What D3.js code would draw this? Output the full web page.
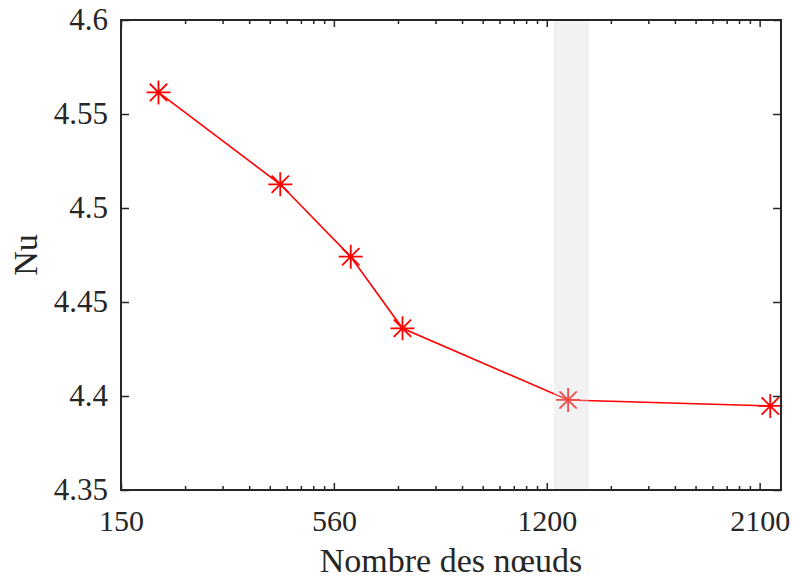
<!DOCTYPE html>
<html>
<head>
<meta charset="utf-8">
<script src="https://cdn.jsdelivr.net/npm/d3@7"></script>
<style>
  body { margin: 0; background: #fff; }
  text { font-family: "Liberation Serif", "Times New Roman", serif; fill: #262626; }
  .domain { display: none; }
  .tick line { stroke: #262626; stroke-width: 1.5; }
</style>
</head>
<body>
<div id="chart"></div>
<script>
// svg dimensions
let svgWidth = 793,
  svgHeight = 580;

// chart margins
let margin = { top: 20, right: 12, bottom: 90, left: 121 };
let chartWidth = svgWidth - margin.left - margin.right;
let chartHeight = svgHeight - margin.top - margin.bottom;

// data: x positions on the log axis, and Nu values
let nodePos = [1.5, 5.6, 12, 21, 126, 1122];
let nuValues = [4.5615, 4.5126, 4.4741, 4.436, 4.3979, 4.3947];

// x tick positions and the labels written on them
let xTickVals = [1, 10, 100, 1000];
let xTickLabels = ["150", "560", "1200", "2100"];
let yTickVals = [4.35, 4.4, 4.45, 4.5, 4.55, 4.6];

// shaded band on the x axis
let bandRange = [108, 158];

let svg = d3
  .select("#chart")
  .append("svg")
  .attr("width", svgWidth)
  .attr("height", svgHeight);

let chartGroup = svg
  .append("g")
  .attr("transform", `translate(${margin.left}, ${margin.top})`);

let xScale = d3.scaleLog().domain([1, 1260]).range([0, chartWidth]);
let yScale = d3.scaleLinear().domain([4.35, 4.6]).range([chartHeight, 0]);

// minor ticks 2..9 in each decade
let minorVals = [];
xTickVals.forEach((d) => {
  for (let k = 2; k < 10; k++) {
    if (d * k < 1260) minorVals.push(d * k);
  }
});

// line and markers
let line = d3
  .line()
  .x((d, i) => xScale(nodePos[i]))
  .y((d) => yScale(d));

chartGroup
  .append("path")
  .datum(nuValues)
  .attr("d", line)
  .attr("fill", "none")
  .attr("stroke", "#ff0000")
  .attr("stroke-width", 1.6);

let r = 12;
let star = `M${-r},0L${r},0M0,${-r}L0,${r}M${-r * 0.72},${-r * 0.72}L${r * 0.72},${r * 0.72}M${-r * 0.72},${r * 0.72}L${r * 0.72},${-r * 0.72}`;

chartGroup
  .selectAll(".marker")
  .data(nuValues)
  .enter()
  .append("path")
  .classed("marker", true)
  .attr("transform", (d, i) => `translate(${xScale(nodePos[i])}, ${yScale(d)})`)
  .attr("d", star)
  .attr("stroke", "#ff0000")
  .attr("stroke-width", 1.8)
  .attr("fill", "none");

// grey band drawn over the line
chartGroup
  .append("rect")
  .attr("x", xScale(bandRange[0]))
  .attr("y", 0)
  .attr("width", xScale(bandRange[1]) - xScale(bandRange[0]))
  .attr("height", chartHeight)
  .attr("fill", "#d9d9d9")
  .attr("fill-opacity", 0.35);

// axes, ticks pointing inward on all four sides
let bottomAxis = d3
  .axisBottom(xScale)
  .tickValues(xTickVals)
  .tickFormat((d, i) => xTickLabels[i])
  .tickSizeInner(-7)
  .tickPadding(20);

let bottomGroup = chartGroup
  .append("g")
  .attr("transform", `translate(0, ${chartHeight})`)
  .call(bottomAxis);
bottomGroup.selectAll("text").attr("font-size", "30px");

chartGroup
  .append("g")
  .attr("transform", `translate(0, ${chartHeight})`)
  .call(d3.axisBottom(xScale).tickValues(minorVals).tickFormat("").tickSizeInner(-4));

chartGroup
  .append("g")
  .call(d3.axisTop(xScale).tickValues(xTickVals).tickFormat("").tickSizeInner(-7));

chartGroup
  .append("g")
  .call(d3.axisTop(xScale).tickValues(minorVals).tickFormat("").tickSizeInner(-4));

let leftGroup = chartGroup
  .append("g")
  .call(
    d3
      .axisLeft(yScale)
      .tickValues(yTickVals)
      .tickFormat((d) => String(+d.toFixed(2)))
      .tickSizeInner(-8)
      .tickPadding(13)
  );
leftGroup.selectAll("text").attr("font-size", "31px");

chartGroup
  .append("g")
  .attr("transform", `translate(${chartWidth}, 0)`)
  .call(d3.axisRight(yScale).tickValues(yTickVals).tickFormat("").tickSizeInner(-8));

// frame
chartGroup
  .append("rect")
  .attr("width", chartWidth)
  .attr("height", chartHeight)
  .attr("fill", "none")
  .attr("stroke", "#262626")
  .attr("stroke-width", 2);

// axis labels
chartGroup
  .append("text")
  .attr("x", chartWidth / 2)
  .attr("y", chartHeight + 82)
  .attr("text-anchor", "middle")
  .attr("font-size", "34px")
  .text("Nombre des nœuds");

chartGroup
  .append("text")
  .attr("transform", `translate(${-margin.left + 37}, ${chartHeight / 2}) rotate(-90)`)
  .attr("text-anchor", "middle")
  .attr("font-size", "34px")
  .text("Nu");
</script>
</body>
</html>
